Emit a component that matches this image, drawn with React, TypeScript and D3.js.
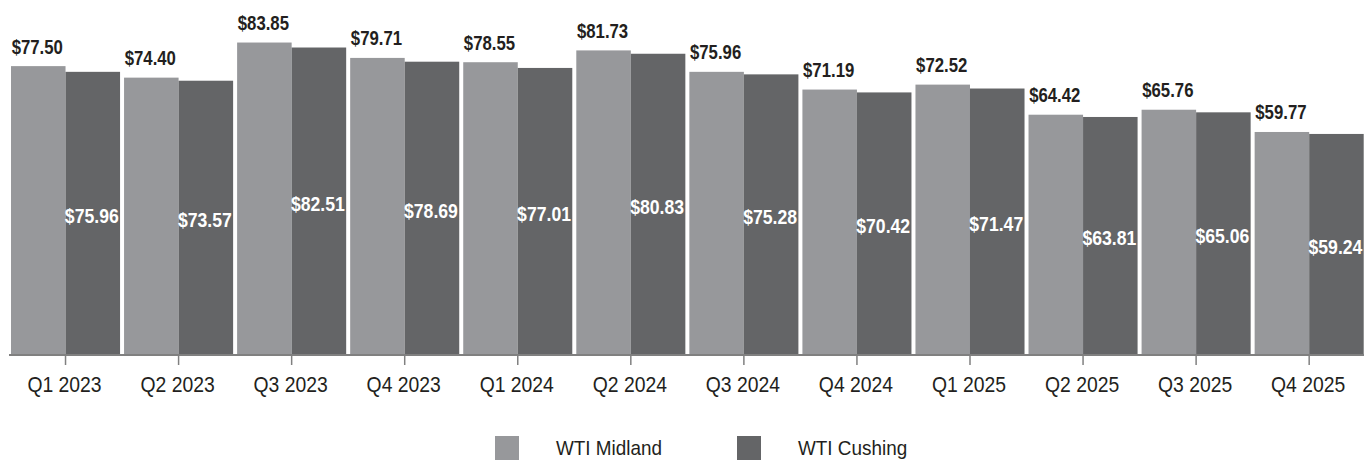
import React from "react";
import * as d3 from "d3";

const categories = ["Q1 2023", "Q2 2023", "Q3 2023", "Q4 2023", "Q1 2024", "Q2 2024", "Q3 2024", "Q4 2024", "Q1 2025", "Q2 2025", "Q3 2025", "Q4 2025"];
const midland = [77.5, 74.4, 83.85, 79.71, 78.55, 81.73, 75.96, 71.19, 72.52, 64.42, 65.76, 59.77];
const cushing = [75.96, 73.57, 82.51, 78.69, 77.01, 80.83, 75.28, 70.42, 71.47, 63.81, 65.06, 59.24];
const seriesNames = ["WTI Midland", "WTI Cushing"];
const colors = ["#97989b", "#646567"];

const W = 1364;
const H = 460;
const baseY = 354;

export default function App() {
  const x = d3.scaleBand<string>().domain(categories).range([11, 1363.7]).paddingInner(0.0354).paddingOuter(0);
  const sub = d3.scaleBand<string>().domain(["m", "c"]).range([0, x.bandwidth()]).padding(0);
  const y = d3.scaleLinear().domain([0, 95.3]).range([baseY, 0]);
  const fmt = (v: number) => "$" + d3.format(".2f")(v);
  const font = "'Liberation Sans', Arial, Helvetica, sans-serif";

  return (
    <svg width={W} height={H} style={{ position: "absolute", left: 0, top: 0, background: "#fff" }}>
      {categories.map((c, i) => {
        const gx = x(c)!;
        const mx = gx + sub("m")!;
        const cx = gx + sub("c")!;
        const bw = sub.bandwidth();
        const my = y(midland[i]);
        const cy = y(cushing[i]);
        return (
          <g key={c}>
            <rect x={mx} y={my} width={bw} height={baseY - my} fill={colors[0]} />
            <rect x={cx} y={cy} width={bw} height={baseY - cy} fill={colors[1]} />
            <text
              transform={`translate(${mx + bw / 2 - 1},${my - 12.5}) scale(0.86,1)`}
              textAnchor="middle"
              fontFamily={font}
              fontWeight="bold"
              fontSize={19.5}
              fill="#231f20"
            >
              {fmt(midland[i])}
            </text>
            <text
              transform={`translate(${cx + bw / 2 - 1},${(cy + baseY) / 2 + 10}) scale(0.86,1)`}
              textAnchor="middle"
              fontFamily={font}
              fontWeight="bold"
              fontSize={20.5}
              fill="#ffffff"
            >
              {fmt(cushing[i])}
            </text>
          </g>
        );
      })}
      <line x1={9} x2={1364} y1={baseY + 1} y2={baseY + 1} stroke="#808080" strokeWidth={2} />
      {categories.map((c) => {
        const tx = x(c)! + x.bandwidth() / 2;
        return (
          <g key={"t" + c}>
            <line x1={tx} x2={tx} y1={baseY + 1} y2={baseY + 11} stroke="#808080" strokeWidth={1.5} />
            <text
              transform={`translate(${tx - 1},${391.5}) scale(0.9,1)`}
              textAnchor="middle"
              fontFamily={font}
              fontSize={21.5}
              fill="#231f20"
            >
              {c}
            </text>
          </g>
        );
      })}
      {seriesNames.map((s, i) => {
        const lx = [495, 737][i];
        return (
          <g key={s}>
            <rect x={lx} y={436} width={24} height={24} fill={colors[i]} />
            <text transform={`translate(${lx + 61},${455}) scale(0.9,1)`} fontFamily={font} fontSize={21} fill="#231f20">
              {s}
            </text>
          </g>
        );
      })}
    </svg>
  );
}
